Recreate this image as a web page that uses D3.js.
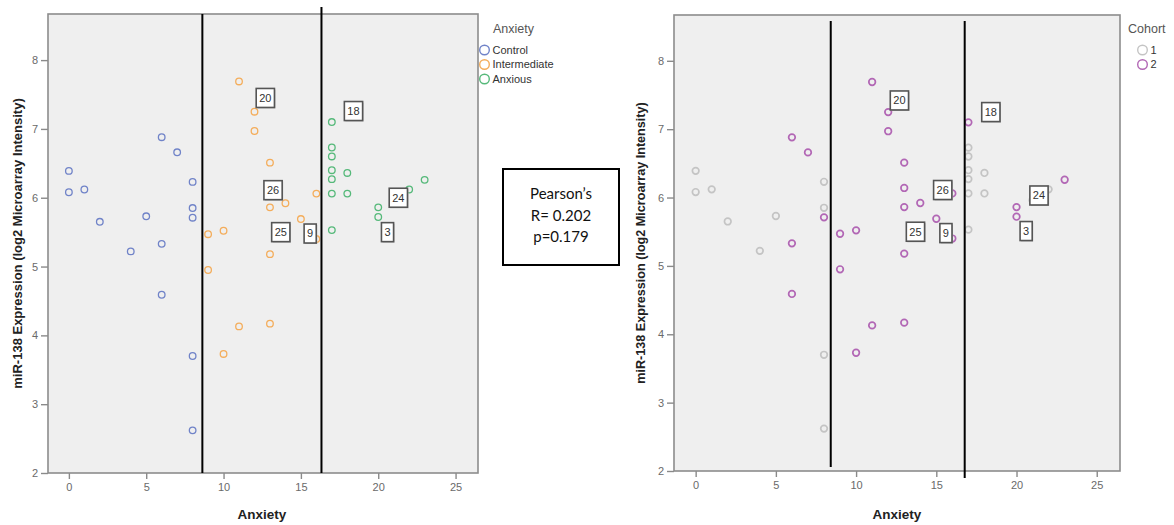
<!DOCTYPE html>
<html><head><meta charset="utf-8">
<script src="https://cdn.jsdelivr.net/npm/d3@7"></script>
<style>
body{margin:0;background:#fff;}
svg{display:block;font-family:"Liberation Sans",Arial,sans-serif;}
</style></head><body>
<svg id="chart" width="1174" height="525"></svg>
<script>
// Anxiety score and miR-138 expression for each participant
const anxietyScore = [0,0,1,2,4,5,6,6,6,7,8,8,8,8,8,
  9,9,10,10,11,11,12,12,13,13,13,13,13,14,15,16,16,
  17,17,17,17,17,17,17,18,18,20,20,21,22,23];
const mirExpression = [6.39,6.08,6.12,5.65,5.22,5.73,6.88,5.33,4.59,6.66,6.23,5.85,5.71,3.70,2.62,
  5.47,4.95,5.52,3.73,7.69,4.13,7.25,6.97,6.51,6.14,5.86,5.18,4.17,5.92,5.69,6.06,5.40,
  7.10,6.73,6.60,6.40,6.27,6.06,5.53,6.36,6.06,5.86,5.72,5.96,6.12,6.26];
const anxietyGroup = [0,0,0,0,0,0,0,0,0,0,0,0,0,0,0,
  1,1,1,1,1,1,1,1,1,1,1,1,1,1,1,1,1,
  2,2,2,2,2,2,2,2,2,2,2,2,2,2];
const cohort = [1,1,1,1,1,1,2,2,2,2,1,1,2,1,1,
  2,2,2,2,2,2,2,2,2,2,2,2,2,2,2,2,2,
  2,1,1,1,1,1,1,1,1,2,2,1,1,2];

const groupNames = ["Control","Intermediate","Anxious"];
const cohortNames = ["1","2"];
const xTicks = [0,5,10,15,20,25];
const yTicks = [2,3,4,5,6,7,8];
const xDomain = [-1.35, 26.45];
const yDomain = [2, 8.67];

// Case-number labels (anchor in data units) for each panel
const caseLabels = ["20","18","26","25","9","24","3"];
const labelXAnxiety = [12.7,18.4,13.2,13.7,15.6,21.3,20.6];
const labelYAnxiety = [7.45,7.26,6.11,5.50,5.48,6.00,5.50];
const labelXCohort  = [12.7,18.4,15.4,13.7,15.6,21.4,20.6];
const labelYCohort  = [7.42,7.25,6.11,5.50,5.48,6.03,5.51];

// Group cut-off lines on the Anxiety axis
const cutoffsAnxiety = [8.63, 16.33];
const cutoffsCohort = [8.42, 16.77];

const pearsonLines = ["Pearson\u2019s","R= 0.202","p=0.179"];

const groupColors = ["#7083c8","#f4ad5b","#56b97a"];
const cohortColors = ["#c4c4c4","#b267b5"];

const svg = d3.select("#chart");

function drawPanel(o) {
  const g = svg.append("g");
  const x = d3.scaleLinear().domain(xDomain).range([o.left, o.right]);
  const y = d3.scaleLinear().domain(yDomain).range([o.bottom, o.top]);

  g.append("rect").attr("x", o.left).attr("y", o.top)
    .attr("width", o.right - o.left).attr("height", o.bottom - o.top)
    .attr("fill", "#efefef");

  const xa = g.append("g").attr("transform", `translate(0,${o.bottom})`)
    .call(d3.axisBottom(x).tickValues(xTicks).tickSize(6).tickPadding(4).tickFormat(d3.format("d")));
  const ya = g.append("g").attr("transform", `translate(${o.left},0)`)
    .call(d3.axisLeft(y).tickValues(yTicks).tickSize(7).tickPadding(3).tickFormat(d3.format("d")));
  [xa, ya].forEach(a => {
    a.attr("color", "#6a6a6a");
    a.select(".domain").remove();
    a.selectAll(".tick line").attr("stroke", "#8a8a8a").attr("stroke-width", 1.4);
    a.selectAll(".tick text").attr("fill", "#6a6a6a").style("font-size", "11px")
      .style("font-family", "'Liberation Sans',Arial,sans-serif");
  });

  g.append("rect").attr("x", o.left).attr("y", o.top)
    .attr("width", o.right - o.left).attr("height", o.bottom - o.top)
    .attr("fill", "none").attr("stroke", "#8c8c8c").attr("stroke-width", 1.6);

  g.append("g").selectAll("circle").data(d3.range(anxietyScore.length)).join("circle")
    .attr("cx", i => x(anxietyScore[i]))
    .attr("cy", i => y(mirExpression[i]))
    .attr("r", 3.3)
    .attr("fill", "none")
    .attr("stroke", i => o.color(i))
    .attr("stroke-width", o.pointStroke);

  g.append("g").selectAll("line").data(o.cutoffs).join("line")
    .attr("x1", d => x(d)).attr("x2", d => x(d))
    .attr("y1", (d, i) => o.top + o.lineTop[i])
    .attr("y2", (d, i) => o.bottom + o.lineBottom[i])
    .attr("stroke", "#000").attr("stroke-width", 2);

  const lab = g.append("g").selectAll("g").data(caseLabels).join("g")
    .attr("transform", (d, i) => `translate(${x(o.labelX[i])},${y(o.labelY[i])})`);
  lab.each(function(d) {
    const s = d3.select(this);
    const t = s.append("text").text(d).attr("text-anchor", "middle").attr("dy", "0.36em")
      .attr("fill", "#333").style("font-size", "11px");
    const w = t.node().getComputedTextLength() + 6;
    s.insert("rect", "text").attr("x", -w / 2 + 1).attr("y", -9.5 + 1).attr("width", w).attr("height", 19)
      .attr("fill", "#bbb");
    s.insert("rect", "text").attr("x", -w / 2).attr("y", -9.5).attr("width", w).attr("height", 19)
      .attr("fill", "#fff").attr("stroke", "#555").attr("stroke-width", 1.6);
  });

  g.append("text").attr("transform", `translate(${o.yTitleX},${(o.top + o.bottom) / 2 + 0}) rotate(-90)`)
    .attr("text-anchor", "middle").attr("fill", "#222")
    .style("font-size", o.yTitleSize).style("font-weight", "bold")
    .text("miR-138 Expression (log2 Microarray Intensity)");
  g.append("text").attr("x", (o.left + o.right) / 2 + o.xTitleShift).attr("y", 519)
    .attr("text-anchor", "middle").attr("fill", "#222")
    .style("font-size", "13.5px").style("font-weight", "bold").text("Anxiety");

  // legend
  const lg = g.append("g");
  lg.append("text").attr("x", o.legendTitleX).attr("y", 33).attr("fill", "#555")
    .style("font-size", "12.5px").text(o.legendTitle);
  const it = lg.selectAll("g").data(o.legendNames).join("g")
    .attr("transform", (d, i) => `translate(${o.legendX},${50 + i * 14.5})`);
  it.append("circle").attr("r", 4.8).attr("fill", "none")
    .attr("stroke", (d, i) => o.legendColors[i]).attr("stroke-width", 1.4);
  it.append("text").attr("x", 8).attr("dy", "0.36em").attr("fill", "#333")
    .style("font-size", "11px").text(d => d);
}

drawPanel({
  left: 48, right: 478, top: 14, bottom: 473,
  color: i => groupColors[anxietyGroup[i]], pointStroke: 1.3,
  cutoffs: cutoffsAnxiety, lineTop: [0, -7], lineBottom: [0, 0],
  labelX: labelXAnxiety, labelY: labelYAnxiety,
  yTitleX: 22, yTitleSize: "13px", xTitleShift: -1,
  legendTitle: "Anxiety", legendTitleX: 493, legendX: 484.5,
  legendNames: groupNames, legendColors: groupColors
});

drawPanel({
  left: 674, right: 1120, top: 15, bottom: 471,
  color: i => cohortColors[cohort[i] - 1], pointStroke: 1.7,
  cutoffs: cutoffsCohort, lineTop: [6, 6], lineBottom: [-4, 7],
  labelX: labelXCohort, labelY: labelYCohort,
  yTitleX: 645, yTitleSize: "12.6px", xTitleShift: 0,
  legendTitle: "Cohort", legendTitleX: 1128, legendX: 1142.5,
  legendNames: cohortNames, legendColors: cohortColors
});

// Correlation summary box
const pb = svg.append("g");
pb.append("rect").attr("x", 503).attr("y", 169).attr("width", 116).attr("height", 96)
  .attr("fill", "#fff").attr("stroke", "#000").attr("stroke-width", 2);
pb.selectAll("text").data(pearsonLines).join("text")
  .attr("x", 561).attr("y", (d, i) => 199 + i * 21.5)
  .attr("text-anchor", "middle").attr("fill", "#111")
  .style("font-family", "Lato,'Open Sans',sans-serif").style("font-size", "15px")
  .text(d => d);
</script>
</body></html>
